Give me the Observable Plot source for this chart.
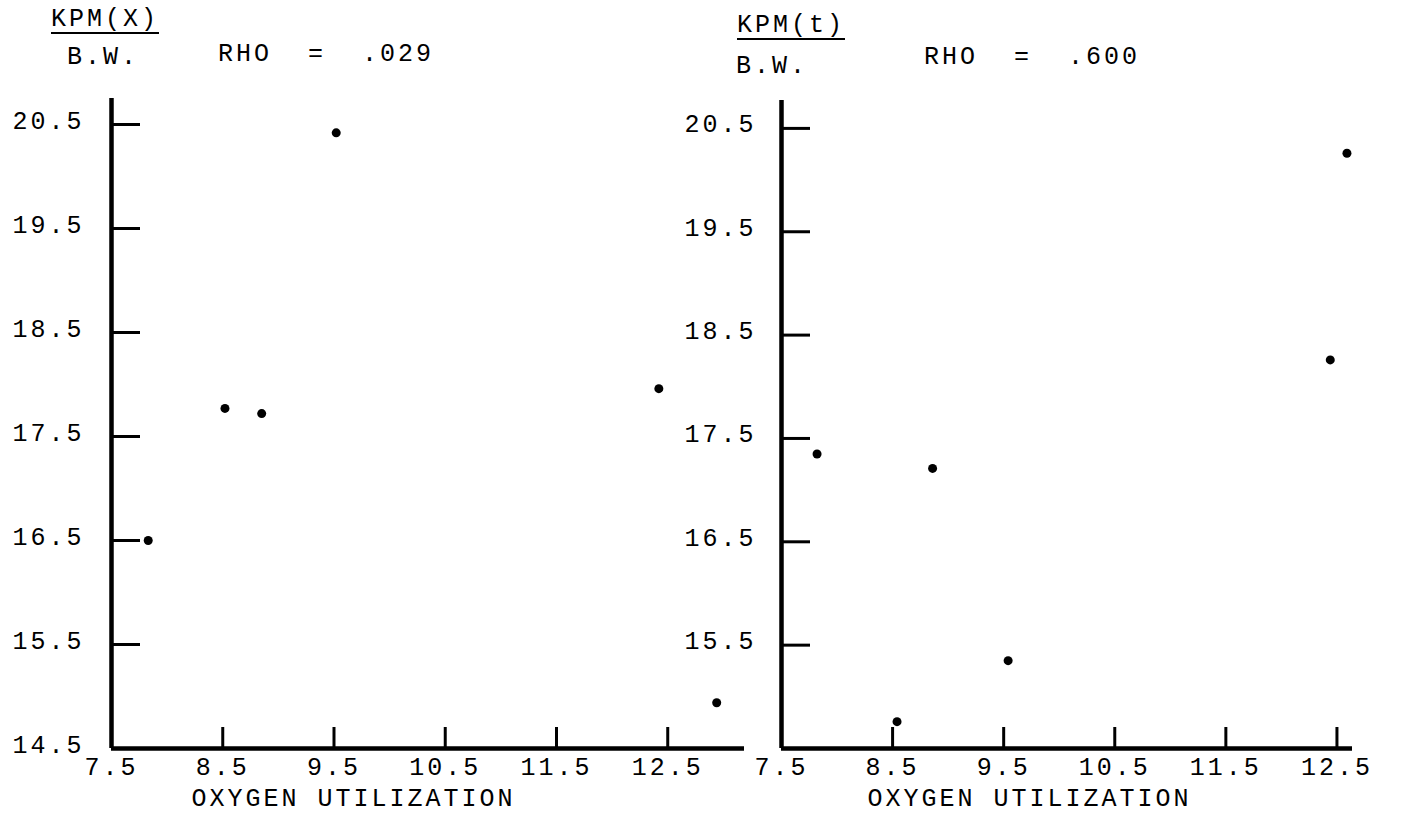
<!DOCTYPE html>
<html>
<head>
<meta charset="utf-8">
<script src="https://cdn.jsdelivr.net/npm/d3@7"></script>
<script src="https://cdn.jsdelivr.net/npm/@observablehq/plot@0.6"></script>
<style>
  body { margin: 0; background: #fff; }
  #wrap { position: relative; width: 1407px; height: 820px; font-family: "Liberation Mono", monospace; color: #000; }
  .panel { position: absolute; top: 0; }
  .panel svg text { letter-spacing: 3px; }
  .hdr { position: absolute; font-size: 25px; line-height: 20px; letter-spacing: 3px; white-space: nowrap; }
  .num { border-bottom: 2.5px solid #000; padding-bottom: 2px; transform: translateX(-50%); }
  .den { transform: translateX(-50%); }
  .rho { word-spacing: 18px; }
</style>
</head>
<body>
<div id="wrap"></div>
<script>
// ---- data ----
const oxygenLeft  = [7.83, 8.52, 8.85, 9.52, 12.42, 12.94];
const kpmXperBW   = [16.50, 17.77, 17.72, 20.42, 17.96, 14.94];
const oxygenRight = [7.82, 8.54, 8.86, 9.54, 12.44, 12.59];
const kpmTperBW   = [17.35, 14.76, 17.21, 15.35, 18.26, 20.26];

const xTickValues  = [8.5, 9.5, 10.5, 11.5, 12.5];
const xLabelValues = [7.5, 8.5, 9.5, 10.5, 11.5, 12.5];
const yTickValues  = [15.5, 16.5, 17.5, 18.5, 19.5, 20.5];
const yLabelsLeft  = [14.5, 15.5, 16.5, 17.5, 18.5, 19.5, 20.5];
const yLabelsRight = [15.5, 16.5, 17.5, 18.5, 19.5, 20.5];

const numerators  = ["KPM(X)", "KPM(t)"];
const denominator = "B.W.";
const rhoValues   = [".029", ".600"];
const xTitle      = "OXYGEN UTILIZATION";

// ---- layout ----
const panels = [
  { xs: oxygenLeft, ys: kpmXperBW, yLabels: yLabelsLeft, left: 0, width: 760,
    marginLeft: 111, marginRight: 16, marginTop: 98, xMax: 13.19, yMax: 20.75,
    labelPad: 27, titleDx: 80,
    num: { x: 105, y: 10 }, den: { x: 103, y: 48 }, rho: { x: 218, y: 45 } },
  { xs: oxygenRight, ys: kpmTperBW, yLabels: yLabelsRight, left: 700, width: 707,
    marginLeft: 81, marginRight: 55, marginTop: 100, xMax: 12.64, yMax: 20.77,
    labelPad: 25, titleDx: 86,
    num: { x: 791, y: 16 }, den: { x: 772, y: 57 }, rho: { x: 924, y: 48 } }
];

const wrap = document.getElementById("wrap");

panels.forEach((p, i) => {
  const data = p.xs.map((x, j) => ({ oxygen: x, kpm: p.ys[j] }));
  const chart = Plot.plot({
    width: p.width,
    height: 820,
    marginLeft: p.marginLeft,
    marginRight: p.marginRight,
    marginTop: p.marginTop,
    marginBottom: 72,
    x: { domain: [7.5, p.xMax], label: null },
    y: { domain: [14.5, p.yMax], label: null },
    style: { fontFamily: "Liberation Mono, monospace", fontSize: "25px", color: "#000", background: "transparent", overflow: "visible" },
    marks: [
      Plot.ruleX([7.5], { y1: 14.5, y2: p.yMax, stroke: "#000", strokeWidth: 4.5 }),
      Plot.ruleY([14.5], { x1: 7.5, x2: p.xMax, stroke: "#000", strokeWidth: 4.5 }),
      Plot.axisY(yTickValues, { anchor: "left", tickSize: -29, strokeWidth: 3, stroke: "#000", text: null, label: null }),
      Plot.axisY(p.yLabels, { anchor: "left", tickSize: 0, tickPadding: p.labelPad, dy: -4, tickFormat: d => d.toFixed(1), fill: "#000", label: null }),
      Plot.axisX(xTickValues, { anchor: "bottom", tickSize: -21, strokeWidth: 3, stroke: "#000", text: null, label: null }),
      Plot.axisX(xLabelValues, { anchor: "bottom", tickSize: 0, tickPadding: 9, tickFormat: d => d.toFixed(1), fill: "#000", label: null }),
      Plot.dot(data, { x: "oxygen", y: "kpm", r: 4.5, fill: "#000", stroke: null }),
      Plot.text([xTitle], { frameAnchor: "bottom-left", dx: p.titleDx, dy: 57, textAnchor: "start", fill: "#000", fontSize: 25 })
    ]
  });
  const holder = document.createElement("div");
  holder.className = "panel";
  holder.style.left = p.left + "px";
  holder.appendChild(chart);
  wrap.appendChild(holder);

  const num = document.createElement("div");
  num.className = "hdr num";
  num.style.left = p.num.x + "px"; num.style.top = p.num.y + "px";
  num.textContent = numerators[i];
  wrap.appendChild(num);

  const den = document.createElement("div");
  den.className = "hdr den";
  den.style.left = p.den.x + "px"; den.style.top = p.den.y + "px";
  den.textContent = denominator;
  wrap.appendChild(den);

  const rho = document.createElement("div");
  rho.className = "hdr rho";
  rho.style.left = p.rho.x + "px"; rho.style.top = p.rho.y + "px";
  rho.textContent = "RHO = " + rhoValues[i];
  wrap.appendChild(rho);
});
</script>
</body>
</html>
